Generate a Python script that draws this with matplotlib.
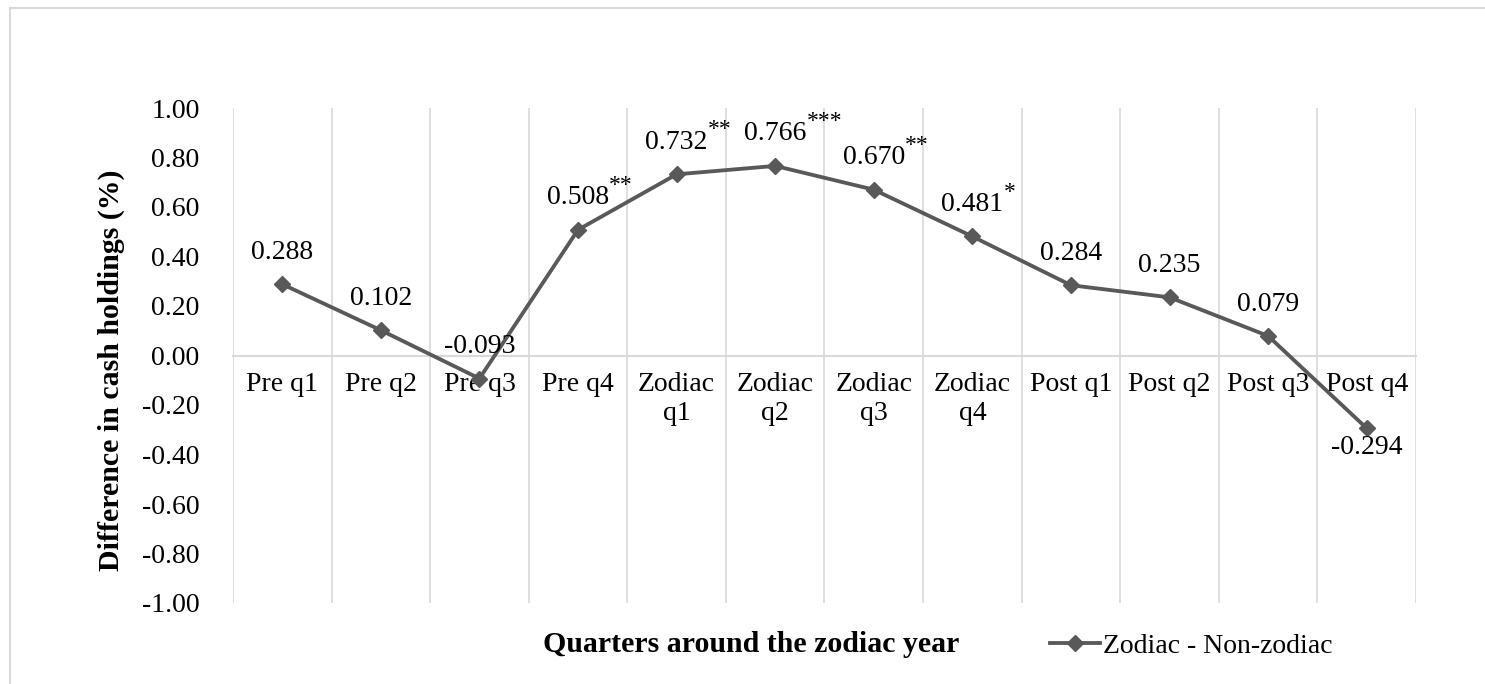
import matplotlib
matplotlib.use('Agg')
import matplotlib.pyplot as plt
from matplotlib.lines import Line2D

plt.rcParams['font.family'] = ['Liberation Serif', 'DejaVu Serif']
plt.rcParams['axes.unicode_minus'] = False

# Datos
quarters = ['Pre q1', 'Pre q2', 'Pre q3', 'Pre q4', 'Zodiac\nq1', 'Zodiac\nq2',
            'Zodiac\nq3', 'Zodiac\nq4', 'Post q1', 'Post q2', 'Post q3', 'Post q4']
diff = [0.288, 0.102, -0.093, 0.508, 0.732, 0.766, 0.670, 0.481, 0.284, 0.235, 0.079, -0.294]
stars = ['', '', '', '**', '**', '***', '**', '*', '', '', '', '']
label_below = [False] * 11 + [True]

line_color = '#595959'
grid_color = '#d9d9d9'

fig = plt.figure(figsize=(14.85, 6.84), dpi=100)
ax = fig.add_axes([233 / 1485, 1 - 603 / 684, (1416 - 233) / 1485, (603 - 108) / 684])

x = list(range(len(quarters)))
ax.plot(x, diff, color=line_color, linewidth=2.75, marker='D', markersize=8.5,
        label='Zodiac - Non-zodiac', zorder=3)

# Lineas verticales entre categorias
for i in range(len(quarters) + 1):
    ax.axvline(i - 0.5, color=grid_color, linewidth=1.2, zorder=0)

ax.set_xlim(-0.5, len(quarters) - 0.5)
ax.set_ylim(-1.0, 1.0)
ax.set_yticks([-1 + 0.2 * k for k in range(11)])
ax.set_yticklabels([f'{-1 + 0.2 * k:.2f}' for k in range(11)])
ax.set_xticks(x)
ax.set_xticklabels(quarters, linespacing=0.95)

for s in ['top', 'right', 'left']:
    ax.spines[s].set_visible(False)
ax.spines['bottom'].set_position(('data', 0))
ax.spines['bottom'].set_color(grid_color)
ax.spines['bottom'].set_linewidth(1.5)
ax.tick_params(axis='x', length=0, pad=12, labelsize=20)
ax.tick_params(axis='y', length=0, pad=24, labelsize=20)

# Etiquetas de datos con asteriscos
for xi, v, st, below in zip(x, diff, stars, label_below):
    txt = f'{v:.3f}'
    if below:
        t = ax.annotate(txt, xy=(xi, v), xytext=(0, -14), textcoords='offset points',
                        ha='center', va='center', fontsize=20)
    else:
        t = ax.annotate(txt, xy=(xi, v), xytext=(0, 23), textcoords='offset points',
                        ha='center', va='center', fontsize=20)
    if st:
        ax.annotate(st, xy=(1, 1), xycoords=t, xytext=(0, 0), textcoords='offset points',
                    ha='left', va='center', fontsize=17)

fig.text(111 / 1485, 1 - 370 / 684, 'Difference in cash holdings (%)', rotation=90,
         ha='center', va='center', fontsize=21.5, fontweight='bold')
fig.text(751 / 1485, 1 - 645 / 684, 'Quarters around the zodiac year',
         ha='center', va='center', fontsize=21.5, fontweight='bold')

fig.legend(loc='center left', bbox_to_anchor=(1050 / 1485, 1 - 646 / 684), frameon=False,
           fontsize=20, handlelength=1.8, handletextpad=0.1, borderpad=0, borderaxespad=0)

# Borde del area del grafico
fig.add_artist(Line2D([10 / 1485, 10 / 1485], [0, 1 - 8 / 684], transform=fig.transFigure,
                      color=grid_color, linewidth=1.5))
fig.add_artist(Line2D([10 / 1485, 1], [1 - 8 / 684, 1 - 8 / 684], transform=fig.transFigure,
                      color=grid_color, linewidth=1.5))

fig.savefig('out.png', dpi=100)
